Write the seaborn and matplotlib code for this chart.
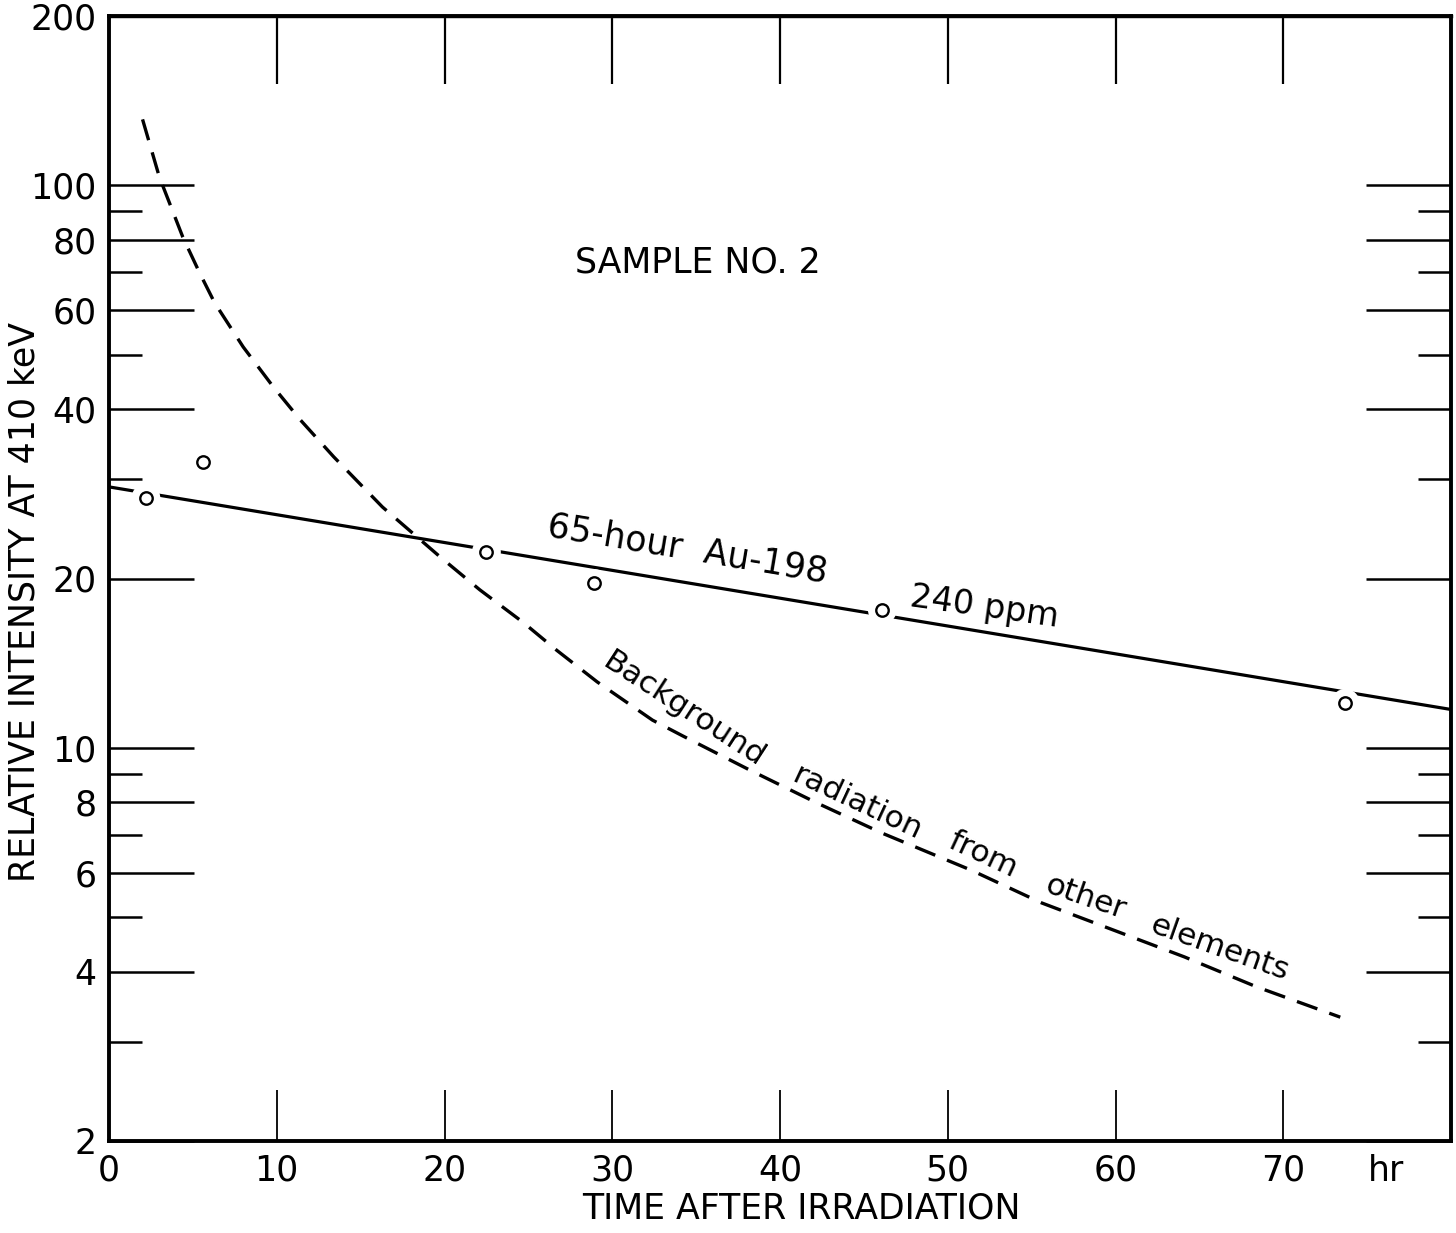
import numpy as np
import pandas as pd
import matplotlib
matplotlib.use('Agg')
from matplotlib import pyplot as plt
from matplotlib.ticker import NullFormatter, NullLocator
import seaborn as sns

sns.set_style('white')
plt.rcParams['font.family'] = ['DejaVu Sans']
plt.rcParams['text.color'] = 'black'
plt.rcParams['axes.labelcolor'] = 'black'
plt.rcParams['xtick.color'] = 'black'
plt.rcParams['ytick.color'] = 'black'

# measured points (hours after irradiation, relative intensity)
point_hours = [2.2, 5.6, 22.5, 28.9, 46.1, 73.7]
point_counts = [27.8, 32.2, 22.3, 19.6, 17.6, 12.0]

# 65-hour Au-198 decay line
fit_hours = [0, 80]
fit_counts = [29.1, 11.7]

# background radiation from other elements
bg_hours = [2.0, 3.0, 4.4, 5.4, 6.3, 8.0, 9.8, 11.4, 13.4, 16.3, 19.7,
            22.1, 24.7, 26.7, 29.1, 32.4, 34.2, 38.2, 42.2, 46.1, 51.4,
            55.6, 59.9, 64.1, 68.4, 73.4]
bg_counts = [131, 103.5, 80.9, 69.9, 61.8, 51.6, 43.8, 38.3, 32.9, 26.8, 21.9,
             19.1, 16.7, 14.9, 13.1, 11.2, 10.5, 9.13, 7.98, 7.05, 6.06,
             5.30, 4.74, 4.25, 3.76, 3.32]

x_ticks = [0, 10, 20, 30, 40, 50, 60, 70]
x_tick_labels = ['0', '10', '20', '30', '40', '50', '60', '70']
y_major = [2, 4, 6, 8, 10, 20, 40, 60, 80, 100, 200]
y_major_labels = ['2', '4', '6', '8', '10', '20', '40', '60', '80', '100', '200']
y_minor = [3, 5, 7, 9, 30, 50, 70, 90]

points = pd.DataFrame({'t': point_hours, 'I': point_counts})
fit = pd.DataFrame({'t': fit_hours, 'I': fit_counts})
bg = pd.DataFrame({'t': bg_hours, 'I': bg_counts})

fig = plt.figure(figsize=(14.56, 12.33), dpi=100)
ax = fig.add_axes([109 / 1456, 1 - 1141 / 1233, 1342 / 1456, 1125 / 1233])

sns.lineplot(data=fit, x='t', y='I', color='black', lw=2.3, ax=ax,
             estimator=None, zorder=2)
sns.lineplot(data=bg, x='t', y='I', color='black', lw=2.4, ax=ax,
             estimator=None, sort=False, linestyle=(0, (6.5, 3.8)), zorder=2)
# white halos break the line around the points
sns.scatterplot(data=points, x='t', y='I', s=430, color='white',
                edgecolor='none', ax=ax, zorder=3)
sns.scatterplot(data=points, x='t', y='I', s=80, facecolor='white',
                edgecolor='black', linewidth=1.7, ax=ax, zorder=4)

ax.set_yscale('log')
ax.set_xlim(0, 80)
ax.set_ylim(2, 200)

ax.set_xticks(x_ticks, labels=x_tick_labels)
ax.xaxis.set_minor_locator(NullLocator())
ax.set_yticks(y_major, labels=y_major_labels)
ax.set_yticks(y_minor, minor=True)
ax.yaxis.set_minor_formatter(NullFormatter())

ax.tick_params(axis='x', which='major', direction='in', length=37, width=1.3,
               labelsize=25, pad=9, top=False, bottom=True)
ax.tick_params(axis='y', which='major', direction='in', length=61, width=1.8,
               labelsize=25, pad=9, left=True, right=True)
ax.tick_params(axis='y', which='minor', direction='in', length=24, width=1.8,
               left=True, right=True)

top = ax.secondary_xaxis('top')
top.set_xticks(x_ticks[1:], labels=[''] * len(x_ticks[1:]))
top.tick_params(direction='in', length=49, width=1.6)
for sp in top.spines.values():
    sp.set_linewidth(2.5)

for sp in ax.spines.values():
    sp.set_visible(True)
    sp.set_linewidth(2.8)
    sp.set_color('black')

ax.set_xlabel('TIME AFTER IRRADIATION', fontsize=25, va='center')
ax.xaxis.set_label_coords(0.516, -0.0596)
ax.set_ylabel('RELATIVE INTENSITY AT 410 keV', fontsize=25)
ax.yaxis.set_label_coords(-0.050, 0.479)

ax.text(76.1, -0.0115, 'hr', transform=ax.get_xaxis_transform(),
        ha='center', va='top', fontsize=25)

ax.text(35.1, 73.0, 'SAMPLE NO. 2', ha='center', va='center', fontsize=25)
ax.text(34.5, 22.6, '65-hour  Au-198', ha='center', va='center', fontsize=25,
        rotation=-9.5, rotation_mode='anchor')
ax.text(52.2, 17.8, '240 ppm', ha='center', va='center', fontsize=24,
        rotation=-8, rotation_mode='anchor')

words = ['Background', 'radiation', 'from', 'other', 'elements']
word_x = [34.3, 44.6, 52.1, 58.2, 66.2]
word_y = [11.7, 7.98, 6.45, 5.41, 4.41]
word_rot = [-33, -25, -25, -19, -19.5]
for w, wx, wy, wr in zip(words, word_x, word_y, word_rot):
    ax.text(wx, wy, w, ha='center', va='center', fontsize=22.5,
            rotation=wr, rotation_mode='anchor')

fig.savefig('out.png', dpi=100, facecolor='white')
